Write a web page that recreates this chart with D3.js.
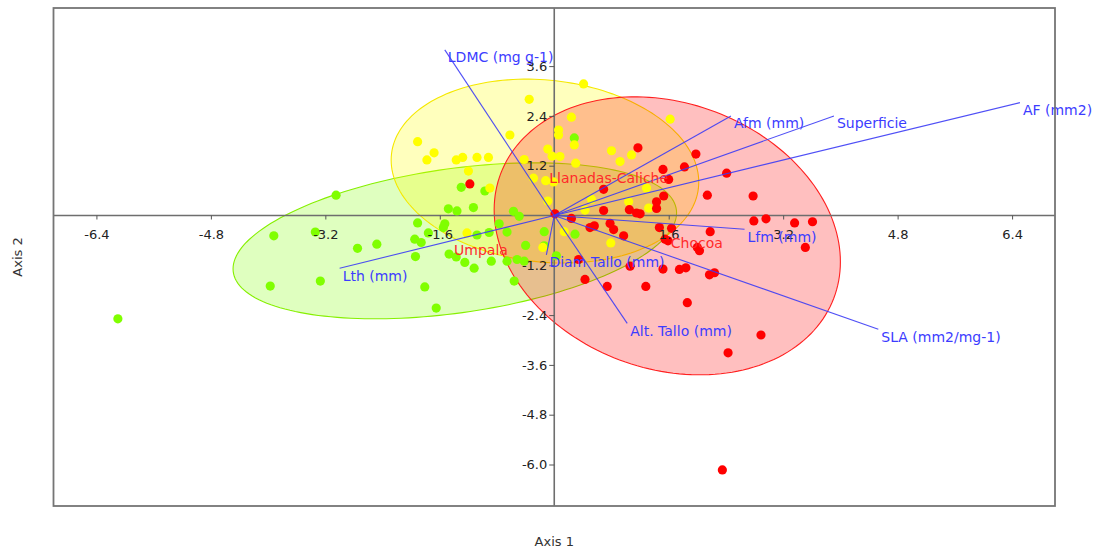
<!DOCTYPE html>
<html><head><meta charset="utf-8">
<script src="https://cdn.jsdelivr.net/npm/d3@7"></script>
<style>body{margin:0;background:#fff}svg{display:block}</style>
</head><body><svg id="chart" width="1098" height="548"></svg>
<script>
// ---------- data ----------
const xTicks = [-6.4, -4.8, -3.2, -1.6, 1.6, 3.2, 4.8, 6.4];
const yTicks = [3.6, 2.4, 1.2, -1.2, -2.4, -3.6, -4.8, -6.0];

const groups = ["Umpala", "Llanadas-Caliche", "Chocoa"];
const groupColors = ["#80ff00", "#ffff00", "#ff0000"];
const groupFills = ["rgba(128,255,0,0.25)", "rgba(255,255,0,0.26)", "rgba(255,0,0,0.25)"];
const groupStrokes = ["#86f000", "#f5e800", "#ff2020"];

const umpala = [[-6.10,-2.49],[-3.92,-0.49],[-3.34,-0.40],[-3.05,0.49],[-2.75,-0.79],[-2.48,-0.69],[-3.97,-1.70],[-3.27,-1.58],[-1.91,-0.18],[-1.95,-0.57],[-1.86,-0.65],[-1.76,-0.42],[-1.94,-0.99],[-1.81,-1.72],[-1.65,-2.23],[-1.53,-0.20],[-1.55,-0.29],[-1.48,0.16],[-1.36,0.11],[-1.13,0.19],[-1.30,0.68],[-0.97,0.59],[-1.47,-0.93],[-1.37,-1.00],[-1.25,-1.13],[-1.12,-1.27],[-1.08,-0.47],[-0.91,-0.41],[-0.77,-0.20],[-0.66,-0.40],[-0.88,-1.10],[-0.66,-1.10],[-0.52,-1.06],[-0.42,-1.10],[-0.56,-1.58],[-0.57,0.10],[-0.49,-0.02],[-0.40,-0.72],[-0.14,-0.39],[-0.14,-0.73],[0.03,-0.97],[0.29,-0.45],[0.28,1.87]];

const llanadas = [[0.41,3.17],[-0.35,2.80],[-0.62,1.94],[0.24,2.37],[0.06,2.06],[0.06,1.94],[0.28,1.70],[-1.91,1.78],[-1.68,1.51],[-1.78,1.34],[-1.37,1.34],[-1.28,1.40],[-1.08,1.40],[-0.92,1.40],[-1.20,1.07],[-0.42,1.35],[-0.09,1.60],[-0.03,1.43],[0.08,1.42],[0.30,1.26],[-0.29,0.90],[-0.12,0.84],[-0.01,0.81],[-0.09,0.35],[-0.90,0.66],[0.80,1.56],[0.92,1.30],[1.08,1.46],[1.62,2.32],[1.29,0.66],[0.52,0.39],[1.04,0.33],[1.32,0.18],[0.43,0.13],[-1.22,-0.42],[-0.16,-0.77],[0.14,-0.39],[0.79,-0.66]];

const chocoa = [[0.01,0.04],[0.24,-0.07],[-1.18,0.76],[1.17,1.63],[1.98,1.48],[1.52,1.11],[1.82,1.17],[1.60,0.87],[2.41,1.02],[0.69,0.63],[2.14,0.49],[2.78,0.47],[1.53,0.47],[1.43,0.33],[1.43,0.17],[0.69,0.12],[1.05,0.14],[1.15,0.06],[1.20,0.04],[2.79,-0.13],[2.96,-0.08],[3.36,-0.18],[3.61,-0.15],[3.51,-0.77],[2.18,-0.39],[1.47,-0.29],[1.64,-0.31],[1.55,-0.57],[1.59,-0.61],[2.00,-0.77],[2.03,-0.85],[0.50,-0.29],[0.56,-0.25],[0.78,-0.19],[0.83,-0.34],[0.97,-0.49],[0.34,-1.06],[1.06,-1.22],[1.52,-1.29],[1.75,-1.30],[1.84,-1.26],[2.17,-1.43],[2.24,-1.38],[0.43,-1.54],[0.74,-1.71],[1.28,-1.71],[1.86,-2.10],[2.89,-2.88],[2.43,-3.31],[2.35,-6.13]];

// 95% ellipses: centre, semi-diameter A, vertical conjugate semi-diameter B
const ellCx = [-1.39, -0.13, 1.58];
const ellCy = [-0.61, 1.07, -0.49];
const ellAx = [3.10, 2.15, 2.42];
const ellAy = [0.675, -0.265, -0.627];
const ellBy = [1.754, 2.20, 3.29];

// group label anchors
const labelX = [-1.40, -0.07, 1.63];
const labelY = [-0.64, 1.08, -0.48];

// biplot vectors
const variables = ["LDMC (mg g-1)", "Afm (mm)", "Superficie", "AF (mm2)", "Lfm (mm)", "SLA (mm2/mg-1)", "Alt. Tallo (mm)", "Diam Tallo (mm)", "Lth (mm)"];
const loadX = [-1.53, 2.47, 3.91, 6.51, 2.66, 4.53, 1.02, -0.11, -3.00];
const loadY = [3.99, 2.40, 2.40, 2.72, -0.33, -2.74, -2.60, -0.95, -1.27];

// ---------- chart ----------
const svg = d3.select("#chart");
const W = 1098, H = 548;
const pLeft = 53.5, pRight = 1055, pTop = 8, pBottom = 506;
const x = d3.scaleLinear().domain([-7, 7]).range([pLeft, pRight]);
const y = d3.scaleLinear().domain([-7, 5]).range([pBottom, pTop]);
const font = "DejaVu Sans, sans-serif";

svg.append("rect").attr("width", W).attr("height", H).attr("fill", "#fff");
svg.append("clipPath").attr("id", "clip").append("rect")
  .attr("x", pLeft).attr("y", pTop).attr("width", pRight - pLeft).attr("height", pBottom - pTop);

const plot = svg.append("g").attr("clip-path", "url(#clip)");

// ellipses
const line = d3.line().curve(d3.curveLinearClosed);
groups.forEach((g, i) => {
  const pts = d3.range(0, 360, 2).map(deg => {
    const t = deg * Math.PI / 180;
    const dx = ellCx[i] + Math.cos(t) * ellAx[i];
    const dy = ellCy[i] + Math.cos(t) * ellAy[i] + Math.sin(t) * ellBy[i];
    return [x(dx), y(dy)];
  });
  plot.append("path").attr("d", line(pts))
    .attr("fill", groupFills[i]).attr("stroke", groupStrokes[i]).attr("stroke-width", 1.1);
});

// axis lines through origin
plot.append("line").attr("x1", pLeft).attr("x2", pRight).attr("y1", y(0)).attr("y2", y(0))
  .attr("stroke", "#6e6e6e").attr("stroke-width", 1.6);
plot.append("line").attr("x1", x(0)).attr("x2", x(0)).attr("y1", pTop).attr("y2", pBottom)
  .attr("stroke", "#6e6e6e").attr("stroke-width", 1.6);

// points
const series = [umpala, llanadas, chocoa];
series.forEach((data, i) => {
  plot.append("g").selectAll("circle").data(data).join("circle")
    .attr("cx", d => x(d[0])).attr("cy", d => y(d[1])).attr("r", 4.6)
    .attr("fill", groupColors[i]);
});

// vectors
variables.forEach((v, i) => {
  plot.append("line").attr("x1", x(0)).attr("y1", y(0)).attr("x2", x(loadX[i])).attr("y2", y(loadY[i]))
    .attr("stroke", "#3c3cf5").attr("stroke-width", 1.1).attr("stroke-opacity", 0.9);
});

// axes ticks
const gx = svg.append("g").attr("transform", `translate(0,${y(0)})`)
  .call(d3.axisBottom(x).tickValues(xTicks).tickSize(4).tickPadding(10).tickFormat(d => d.toFixed(1)));
gx.select(".domain").remove();
const gy = svg.append("g").attr("transform", `translate(${x(0)},0)`)
  .call(d3.axisLeft(y).tickValues(yTicks).tickSize(5).tickPadding(2).tickFormat(d => d.toFixed(1)));
gy.select(".domain").remove();
[gx, gy].forEach(g => {
  g.selectAll(".tick line").attr("stroke", "#555");
  g.selectAll(".tick text").attr("fill", "#222").style("font-family", font).style("font-size", "13px");
});

// vector labels
variables.forEach((v, i) => {
  svg.append("text").attr("x", x(loadX[i]) + 3).attr("y", y(loadY[i]) + 12.5)
    .text(v).attr("fill", "#3c3cff").style("font-family", font).style("font-size", "14px");
});

// group labels
groups.forEach((g, i) => {
  svg.append("text").attr("x", x(labelX[i])).attr("y", y(labelY[i]) + 12.5)
    .text(g).attr("fill", "#ff2a2a").style("font-family", font).style("font-size", "14px");
});

// frame
svg.append("rect").attr("x", pLeft).attr("y", pTop).attr("width", pRight - pLeft).attr("height", pBottom - pTop)
  .attr("fill", "none").attr("stroke", "#757575").attr("stroke-width", 1.8);

// axis titles
svg.append("text").attr("x", (pLeft + pRight) / 2).attr("y", 546).attr("text-anchor", "middle")
  .text("Axis 1").attr("fill", "#333").style("font-family", font).style("font-size", "13px");
svg.append("text").attr("transform", `translate(22,${(pTop + pBottom) / 2}) rotate(-90)`).attr("text-anchor", "middle")
  .text("Axis 2").attr("fill", "#333").style("font-family", font).style("font-size", "13px");
</script>
</body></html>
